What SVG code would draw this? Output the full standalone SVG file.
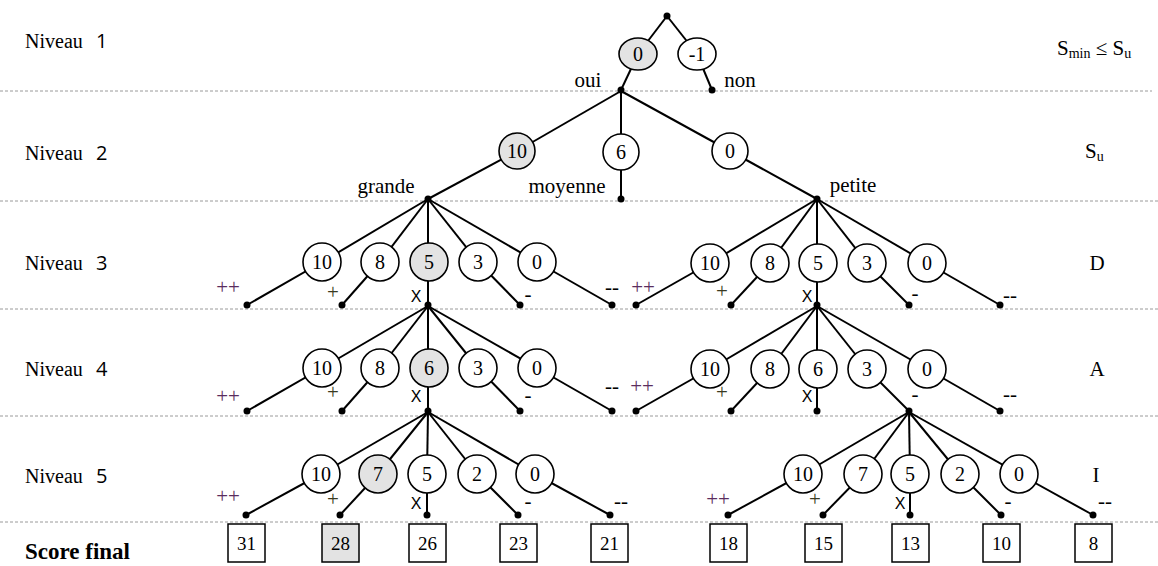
<svg xmlns="http://www.w3.org/2000/svg" width="1158" height="566" viewBox="0 0 1158 566">
<style>
.bg{fill:#fff}
.sep{stroke:#9a9a9a;stroke-width:1;stroke-dasharray:3,2;fill:none}
.ln{stroke:#000;stroke-width:2;fill:none}
.c{fill:#fff;stroke:#000;stroke-width:1.6}
.g{fill:#e3e3e3;stroke:#000;stroke-width:1.6}
.dot{fill:#000}
.t{font-family:"Liberation Serif",serif;font-size:20px;fill:#000;text-anchor:middle}
.lv{font-family:"Liberation Serif",serif;font-size:20px;fill:#000}
.sf{font-family:"Liberation Serif",serif;font-size:23px;font-weight:bold;fill:#000}
.dg{font-family:"Open Sans","Liberation Sans",sans-serif;font-size:20px;fill:#000}
.lab{font-family:"Liberation Serif",serif;font-size:21px;fill:#000}
.s{font-family:"Liberation Serif",serif;font-size:19px;fill:#000;text-anchor:middle}
.x{font-family:"Liberation Sans",sans-serif;font-size:16px;fill:#000;text-anchor:middle}
.pp{font-family:"Liberation Serif",serif;font-size:21px;fill:#5a2d5e;text-anchor:middle}
.p{font-family:"Liberation Serif",serif;font-size:21px;fill:#3a3a20;text-anchor:middle}
.m{font-family:"Liberation Serif",serif;font-size:21px;fill:#000;text-anchor:middle}
.box{fill:#fff;stroke:#000;stroke-width:1.5}
.boxg{fill:#e3e3e3;stroke:#000;stroke-width:1.5}
</style>
<rect class="bg" x="0" y="0" width="1158" height="566"/>
<g id="separators">
<line class="sep" x1="0" y1="91" x2="1152" y2="91"/>
<line class="sep" x1="0" y1="201" x2="1158" y2="201"/>
<line class="sep" x1="0" y1="309" x2="1158" y2="309"/>
<line class="sep" x1="0" y1="416" x2="1158" y2="416"/>
<line class="sep" x1="0" y1="522" x2="1158" y2="522"/>
</g>
<g id="level-labels">
<text class="lv" x="25" y="48">Niveau</text><text class="dg" x="96" y="48">1</text>
<text class="lv" x="25" y="160">Niveau</text><text class="dg" x="96" y="160">2</text>
<text class="lv" x="25" y="270">Niveau</text><text class="dg" x="96" y="270">3</text>
<text class="lv" x="25" y="376">Niveau</text><text class="dg" x="96" y="376">4</text>
<text class="lv" x="25" y="483">Niveau</text><text class="dg" x="96" y="483">5</text>
<text class="sf" x="25" y="559">Score final</text>
</g>
<g id="right-labels">
<text class="lab" x="1057" y="55">S<tspan font-size="14" dy="3">min</tspan><tspan dy="-3"> ≤ S</tspan><tspan font-size="14" dy="3">u</tspan></text>
<text class="lab" x="1085" y="158">S<tspan font-size="14" dy="3">u</tspan></text>
<text class="lab" x="1097" y="270" text-anchor="middle">D</text>
<text class="lab" x="1097" y="376" text-anchor="middle">A</text>
<text class="lab" x="1096" y="482" text-anchor="middle">I</text>
</g>
<g id="connectors">
<line class="ln" x1="667" y1="16" x2="638" y2="54"/>
<line class="ln" x1="638" y1="54" x2="621" y2="90"/>
<line class="ln" x1="667" y1="16" x2="697" y2="54"/>
<line class="ln" x1="697" y1="54" x2="712" y2="90"/>
<line class="ln" x1="621" y1="91" x2="517" y2="151"/>
<line class="ln" x1="517" y1="151" x2="428" y2="199"/>
<line class="ln" x1="621" y1="91" x2="621" y2="152"/>
<line class="ln" x1="621" y1="152" x2="621" y2="199"/>
<line class="ln" x1="621" y1="91" x2="730" y2="151"/>
<line class="ln" x1="730" y1="151" x2="817" y2="199"/>
<line class="ln" x1="428" y1="199" x2="322" y2="262"/><line class="ln" x1="322" y1="262" x2="247" y2="305"/>
<line class="ln" x1="428" y1="199" x2="380" y2="262"/><line class="ln" x1="380" y1="262" x2="342" y2="305"/>
<line class="ln" x1="428" y1="199" x2="428" y2="262"/><line class="ln" x1="428" y1="262" x2="428" y2="305"/>
<line class="ln" x1="428" y1="199" x2="478" y2="262"/><line class="ln" x1="478" y1="262" x2="520" y2="305"/>
<line class="ln" x1="428" y1="199" x2="537" y2="262"/><line class="ln" x1="537" y1="262" x2="612" y2="305"/>
<line class="ln" x1="817" y1="199" x2="710" y2="263"/><line class="ln" x1="710" y1="263" x2="636" y2="305"/>
<line class="ln" x1="817" y1="199" x2="770" y2="263"/><line class="ln" x1="770" y1="263" x2="731" y2="305"/>
<line class="ln" x1="817" y1="199" x2="817" y2="263"/><line class="ln" x1="817" y1="263" x2="817" y2="305"/>
<line class="ln" x1="817" y1="199" x2="867" y2="263"/><line class="ln" x1="867" y1="263" x2="909" y2="305"/>
<line class="ln" x1="817" y1="199" x2="927" y2="263"/><line class="ln" x1="927" y1="263" x2="1000" y2="305"/>
<line class="ln" x1="428" y1="306" x2="322" y2="368"/><line class="ln" x1="322" y1="368" x2="247" y2="411"/>
<line class="ln" x1="428" y1="306" x2="380" y2="368"/><line class="ln" x1="380" y1="368" x2="342" y2="411"/>
<line class="ln" x1="428" y1="306" x2="428" y2="368"/><line class="ln" x1="428" y1="368" x2="428" y2="411"/>
<line class="ln" x1="428" y1="306" x2="478" y2="368"/><line class="ln" x1="478" y1="368" x2="520" y2="411"/>
<line class="ln" x1="428" y1="306" x2="537" y2="368"/><line class="ln" x1="537" y1="368" x2="612" y2="411"/>
<line class="ln" x1="817" y1="306" x2="710" y2="369"/><line class="ln" x1="710" y1="369" x2="636" y2="411"/>
<line class="ln" x1="817" y1="306" x2="770" y2="369"/><line class="ln" x1="770" y1="369" x2="731" y2="411"/>
<line class="ln" x1="817" y1="306" x2="817" y2="369"/><line class="ln" x1="817" y1="369" x2="817" y2="411"/>
<line class="ln" x1="817" y1="306" x2="867" y2="369"/><line class="ln" x1="867" y1="369" x2="909" y2="411"/>
<line class="ln" x1="817" y1="306" x2="927" y2="369"/><line class="ln" x1="927" y1="369" x2="1000" y2="411"/>
<line class="ln" x1="428" y1="412" x2="321" y2="474"/><line class="ln" x1="321" y1="474" x2="246" y2="515"/>
<line class="ln" x1="428" y1="412" x2="378" y2="474"/><line class="ln" x1="378" y1="474" x2="340" y2="515"/>
<line class="ln" x1="428" y1="412" x2="427" y2="474"/><line class="ln" x1="427" y1="474" x2="427" y2="515"/>
<line class="ln" x1="428" y1="412" x2="477" y2="474"/><line class="ln" x1="477" y1="474" x2="518" y2="515"/>
<line class="ln" x1="428" y1="412" x2="535" y2="474"/><line class="ln" x1="535" y1="474" x2="610" y2="515"/>
<line class="ln" x1="909" y1="412" x2="803" y2="474"/><line class="ln" x1="803" y1="474" x2="728" y2="515"/>
<line class="ln" x1="909" y1="412" x2="863" y2="474"/><line class="ln" x1="863" y1="474" x2="823" y2="515"/>
<line class="ln" x1="909" y1="412" x2="910" y2="474"/><line class="ln" x1="910" y1="474" x2="910" y2="515"/>
<line class="ln" x1="909" y1="412" x2="960" y2="474"/><line class="ln" x1="960" y1="474" x2="1001" y2="515"/>
<line class="ln" x1="909" y1="412" x2="1019" y2="474"/><line class="ln" x1="1019" y1="474" x2="1093" y2="515"/>
</g>
<g id="dots">
<circle class="dot" cx="667" cy="16" r="3.5"/>
<circle class="dot" cx="621" cy="90" r="3.5"/><circle class="dot" cx="712" cy="90" r="3.5"/>
<circle class="dot" cx="428" cy="199" r="3.5"/><circle class="dot" cx="621" cy="199" r="3.5"/><circle class="dot" cx="817" cy="199" r="3.5"/>
<circle class="dot" cx="247" cy="305" r="3.5"/><circle class="dot" cx="342" cy="305" r="3.5"/><circle class="dot" cx="428" cy="305" r="3.5"/><circle class="dot" cx="520" cy="305" r="3.5"/><circle class="dot" cx="612" cy="305" r="3.5"/>
<circle class="dot" cx="636" cy="305" r="3.5"/><circle class="dot" cx="731" cy="305" r="3.5"/><circle class="dot" cx="817" cy="305" r="3.5"/><circle class="dot" cx="909" cy="305" r="3.5"/><circle class="dot" cx="1000" cy="305" r="3.5"/>
<circle class="dot" cx="247" cy="411" r="3.5"/><circle class="dot" cx="342" cy="411" r="3.5"/><circle class="dot" cx="428" cy="411" r="3.5"/><circle class="dot" cx="520" cy="411" r="3.5"/><circle class="dot" cx="612" cy="411" r="3.5"/>
<circle class="dot" cx="636" cy="411" r="3.5"/><circle class="dot" cx="731" cy="411" r="3.5"/><circle class="dot" cx="817" cy="411" r="3.5"/><circle class="dot" cx="909" cy="411" r="3.5"/><circle class="dot" cx="1000" cy="411" r="3.5"/>
<circle class="dot" cx="246" cy="515" r="3.5"/><circle class="dot" cx="340" cy="515" r="3.5"/><circle class="dot" cx="427" cy="515" r="3.5"/><circle class="dot" cx="518" cy="515" r="3.5"/><circle class="dot" cx="610" cy="515" r="3.5"/>
<circle class="dot" cx="728" cy="515" r="3.5"/><circle class="dot" cx="823" cy="515" r="3.5"/><circle class="dot" cx="910" cy="515" r="3.5"/><circle class="dot" cx="1001" cy="515" r="3.5"/><circle class="dot" cx="1093" cy="515" r="3.5"/>
</g>
<g id="level1">
<g id="n1-oui"><ellipse class="g" cx="638" cy="54" rx="19" ry="16"/><text class="t" x="638" y="61">0</text></g>
<g id="n1-non"><ellipse class="c" cx="697" cy="54" rx="19" ry="16"/><text class="t" x="697" y="61">-1</text></g>
<text class="lab" x="588" y="87" text-anchor="middle">oui</text>
<text class="lab" x="740" y="87" text-anchor="middle">non</text>
</g>
<g id="level2">
<g id="n2-grande"><circle class="g" cx="517" cy="151" r="18"/><text class="t" x="517" y="158">10</text></g>
<g id="n2-moyenne"><circle class="c" cx="621" cy="152" r="18"/><text class="t" x="621" y="159">6</text></g>
<g id="n2-petite"><circle class="c" cx="730" cy="151" r="18"/><text class="t" x="730" y="158">0</text></g>
<text class="lab" x="386" y="193" text-anchor="middle">grande</text>
<text class="lab" x="567" y="193" text-anchor="middle">moyenne</text>
<text class="lab" x="853" y="192" text-anchor="middle">petite</text>
</g>
<g id="level3-left">
<circle class="c" cx="322" cy="262" r="19"/><text class="t" x="322" y="269">10</text>
<circle class="c" cx="380" cy="262" r="19"/><text class="t" x="380" y="269">8</text>
<circle class="g" cx="429" cy="262" r="19"/><text class="t" x="429" y="269">5</text>
<circle class="c" cx="478" cy="262" r="19"/><text class="t" x="478" y="269">3</text>
<circle class="c" cx="537" cy="262" r="19"/><text class="t" x="537" y="269">0</text>
<text class="pp" x="228" y="294">++</text><text class="p" x="333" y="299">+</text><text class="x" x="416" y="302">X</text><text class="m" x="528" y="301">-</text><text class="m" x="612" y="294">--</text>
</g>
<g id="level3-right">
<circle class="c" cx="710" cy="263" r="19"/><text class="t" x="710" y="270">10</text>
<circle class="c" cx="770" cy="263" r="19"/><text class="t" x="770" y="270">8</text>
<circle class="c" cx="818" cy="263" r="19"/><text class="t" x="818" y="270">5</text>
<circle class="c" cx="867" cy="263" r="19"/><text class="t" x="867" y="270">3</text>
<circle class="c" cx="927" cy="263" r="19"/><text class="t" x="927" y="270">0</text>
<text class="pp" x="643" y="294">++</text><text class="p" x="722" y="298">+</text><text class="x" x="807" y="302">X</text><text class="m" x="915" y="300">-</text><text class="m" x="1010" y="302">--</text>
</g>
<g id="level4-left">
<circle class="c" cx="322" cy="368" r="19"/><text class="t" x="322" y="375">10</text>
<circle class="c" cx="380" cy="368" r="19"/><text class="t" x="380" y="375">8</text>
<circle class="g" cx="429" cy="368" r="19"/><text class="t" x="429" y="375">6</text>
<circle class="c" cx="478" cy="368" r="19"/><text class="t" x="478" y="375">3</text>
<circle class="c" cx="537" cy="368" r="19"/><text class="t" x="537" y="375">0</text>
<text class="pp" x="228" y="403">++</text><text class="p" x="333" y="399">+</text><text class="x" x="416" y="402">X</text><text class="m" x="528" y="402">-</text><text class="m" x="612" y="393">--</text>
</g>
<g id="level4-right">
<circle class="c" cx="710" cy="369" r="19"/><text class="t" x="710" y="376">10</text>
<circle class="c" cx="770" cy="369" r="19"/><text class="t" x="770" y="376">8</text>
<circle class="c" cx="818" cy="369" r="19"/><text class="t" x="818" y="376">6</text>
<circle class="c" cx="867" cy="369" r="19"/><text class="t" x="867" y="376">3</text>
<circle class="c" cx="927" cy="369" r="19"/><text class="t" x="927" y="376">0</text>
<text class="pp" x="642" y="393">++</text><text class="p" x="722" y="399">+</text><text class="x" x="807" y="402">X</text><text class="m" x="915" y="401">-</text><text class="m" x="1010" y="401">--</text>
</g>
<g id="level5-left">
<circle class="c" cx="321" cy="474" r="19"/><text class="t" x="321" y="481">10</text>
<circle class="g" cx="378" cy="474" r="19"/><text class="t" x="378" y="481">7</text>
<circle class="c" cx="427" cy="474" r="19"/><text class="t" x="427" y="481">5</text>
<circle class="c" cx="477" cy="474" r="19"/><text class="t" x="477" y="481">2</text>
<circle class="c" cx="535" cy="474" r="19"/><text class="t" x="535" y="481">0</text>
<text class="pp" x="228" y="503">++</text><text class="p" x="333" y="506">+</text><text class="x" x="416" y="509">X</text><text class="m" x="528" y="508">-</text><text class="m" x="621" y="508">--</text>
</g>
<g id="level5-right">
<circle class="c" cx="803" cy="474" r="19"/><text class="t" x="803" y="481">10</text>
<circle class="c" cx="863" cy="474" r="19"/><text class="t" x="863" y="481">7</text>
<circle class="c" cx="910" cy="474" r="19"/><text class="t" x="910" y="481">5</text>
<circle class="c" cx="960" cy="474" r="19"/><text class="t" x="960" y="481">2</text>
<circle class="c" cx="1019" cy="474" r="19"/><text class="t" x="1019" y="481">0</text>
<text class="pp" x="718" y="506">++</text><text class="p" x="815" y="506">+</text><text class="x" x="900" y="509">X</text><text class="m" x="1008" y="508">-</text><text class="m" x="1105" y="508">--</text>
</g>
<g id="scores">
<rect class="box" x="228" y="524" width="37" height="38"/><text class="s" x="246.5" y="550">31</text>
<rect class="boxg" x="322" y="524" width="37" height="38"/><text class="s" x="340.5" y="550">28</text>
<rect class="box" x="409" y="524" width="37" height="38"/><text class="s" x="427.5" y="550">26</text>
<rect class="box" x="500" y="524" width="37" height="38"/><text class="s" x="518.5" y="550">23</text>
<rect class="box" x="591" y="524" width="37" height="38"/><text class="s" x="609.5" y="550">21</text>
<rect class="box" x="710" y="524" width="37" height="38"/><text class="s" x="728.5" y="550">18</text>
<rect class="box" x="805" y="524" width="37" height="38"/><text class="s" x="823.5" y="550">15</text>
<rect class="box" x="892" y="524" width="37" height="38"/><text class="s" x="910.5" y="550">13</text>
<rect class="box" x="983" y="524" width="37" height="38"/><text class="s" x="1001.5" y="550">10</text>
<rect class="box" x="1075" y="524" width="37" height="38"/><text class="s" x="1093.5" y="550">8</text>
</g>
</svg>
